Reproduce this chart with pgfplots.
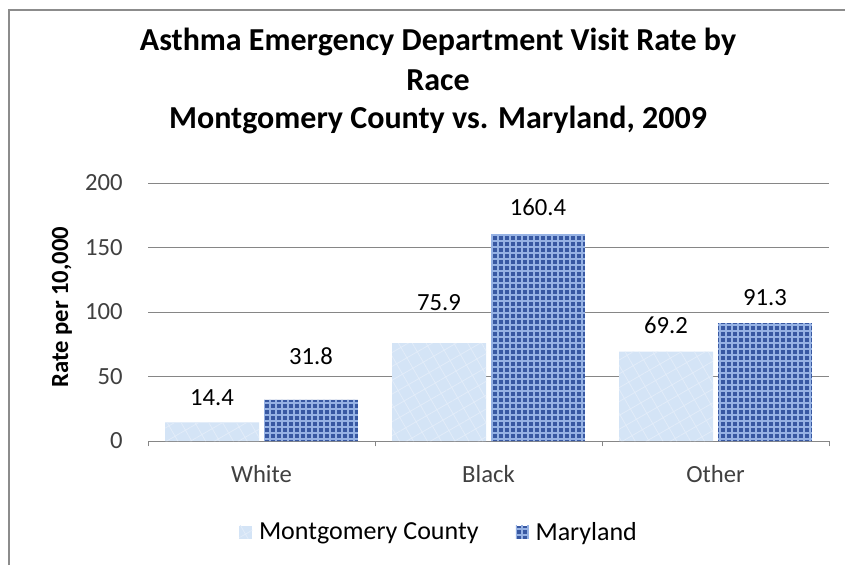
\documentclass[border=0pt]{standalone}
\usepackage{pgfplots}
\pgfplotsset{compat=1.18}
\usepackage{pgfplotstable}
\usepackage{fontspec}
\setmainfont{Carlito}
\usetikzlibrary{patterns.meta}

\definecolor{mocolor}{RGB}{212,228,246}
\definecolor{molight}{RGB}{226,236,249}
\definecolor{mdcolor}{RGB}{56,88,162}
\definecolor{mdlight}{RGB}{150,178,228}
\definecolor{gridgray}{RGB}{134,134,134}
\definecolor{ticktext}{RGB}{64,64,64}
\definecolor{framegray}{RGB}{140,140,140}

% x = category, y = rate, off = label lift (pt)
\pgfplotstableread{
x y off
0 14.4 18.7
1 75.9 30.1
2 69.2 20.0
}\montgomery
\pgfplotstableread{
x y off
0 31.8 33.2
1 160.4 20.0
2 91.3 19.3
}\maryland

\begin{document}
\begin{tikzpicture}
\useasboundingbox (0,0) rectangle (633.75pt,423.75pt);
\draw[framegray, line width=1.5pt] (6.75pt,0) -- (6.75pt,416.25pt) -- (633.75pt,416.25pt);

\begin{scope}[font=\bfseries\fontsize{24}{28}\selectfont]
  \node[anchor=base] at (328.5pt,385.5pt) {Asthma Emergency Department Visit Rate by};
  \node[anchor=base] at (328.5pt,355.5pt) {Race};
  \node[anchor=base] at (328.5pt,327pt) {Montgomery County vs. Maryland, 2009};
\end{scope}

\begin{axis}[
  at={(111pt,93pt)}, anchor=south west,
  scale only axis, width=510.75pt, height=193.5pt,
  xmin=-0.5, xmax=2.5, ymin=0, ymax=200,
  xtick={0,1,2}, xticklabels={White,Black,Other},
  minor xtick={-0.5,0.5,1.5,2.5},
  ytick={0,50,100,150,200},
  xtick pos=bottom, ytick pos=left,
  major tick length=0pt, minor tick length=4pt,
  every minor tick/.style={gridgray, line width=0.75pt},
  axis line style={draw=none},
  ymajorgrids, major grid style={gridgray, line width=0.75pt},
  /pgf/number format/assume math mode=true,
  tick label style={font=\fontsize{18.5}{22}\selectfont, text=ticktext, inner sep=0pt},
  yticklabel style={anchor=east, xshift=-18.75pt},
  xticklabel style={anchor=base, yshift=-31pt},
  ylabel={Rate per 10,000},
  ylabel style={at={(axis description cs:-0.1263,0.519)}, anchor=center, font=\bfseries\fontsize{18.5}{22}\selectfont},
  ybar, bar width=0.414,
  nodes near coords,
  nodes near coords style={anchor=center, inner sep=0pt, text=black, font=\fontsize{18.5}{22}\selectfont},
  visualization depends on={\thisrow{off} \as \off},
  every node near coord/.append style={yshift=\off pt},
  legend columns=2,
  legend style={at={(0.428,-0.353)}, anchor=center, draw=none, fill=none,
    font=\fontsize{19.5}{22}\selectfont,
    /tikz/every odd column/.append style={column sep=3pt},
    /tikz/every even column/.append style={column sep=26pt}},
  legend image code/.code={\fill[#1] (0pt,-4.9pt) rectangle (9.75pt,4.9pt);},
]
\addplot[bar shift=-0.218, draw=none, fill=mocolor,
  postaction={pattern={Hatch[angle=30,distance=9pt,line width=0.6pt]}, pattern color=molight}]
  table[x=x,y=y] {\montgomery};
\addlegendentry{Montgomery County}
\addplot[bar shift=0.218, draw=none, fill=mdcolor,
  postaction={pattern={Hatch[angle=0,distance=4.5pt,line width=1pt]}, pattern color=mdlight}]
  table[x=x,y=y] {\maryland};
\addlegendentry{Maryland}
\end{axis}
\end{tikzpicture}
\end{document}
